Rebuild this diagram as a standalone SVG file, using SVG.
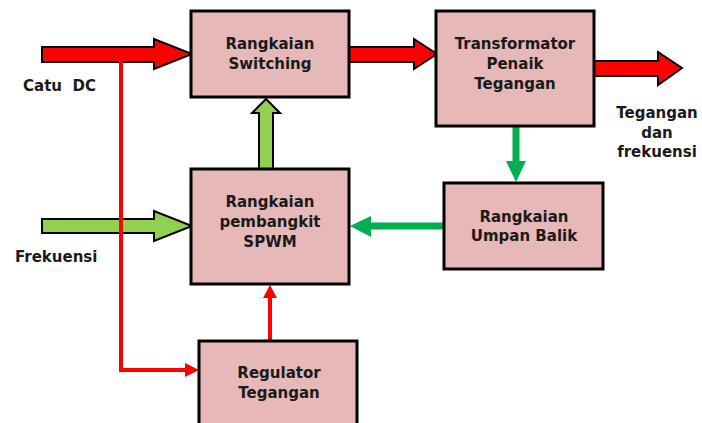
<svg xmlns="http://www.w3.org/2000/svg" width="702" height="423" viewBox="0 0 702 423">
<style>
.box{fill:#e6b8b7;stroke:#000;stroke-width:3}
.t{font-family:"DejaVu Sans","Liberation Sans",sans-serif;font-weight:bold;font-size:15px;fill:#1a1a1a;text-anchor:middle}
.l{font-family:"DejaVu Sans","Liberation Sans",sans-serif;font-weight:bold;font-size:15px;fill:#1a1a1a}
.big-red{fill:#ff0000;stroke:#000;stroke-width:2;stroke-linejoin:miter}
.big-green{fill:#92d050;stroke:#000;stroke-width:2;stroke-linejoin:miter}
.thin-red{fill:none;stroke:#ff0000;stroke-width:4}
.thin-green{fill:none;stroke:#00b050;stroke-width:7}
.hr{fill:#ff0000}
.hg{fill:#00b050}
</style>
<g id="connectors">
<polygon class="big-red" points="42,47 154,47 154,39 192,54 154,69 154,62 42,62"/>
<polygon class="big-red" points="348,47 414,47 414,39 437,54 414,69 414,62 348,62"/>
<polygon class="big-red" points="594,61 658,61 658,52 682,68 658,85 658,76 594,76"/>
<polygon class="big-green" points="259,169 259,113 252,113 266,99 280,113 273,113 273,169"/>
<polygon class="big-green" points="42,219 154,219 154,211 192,226 154,241 154,233 42,233"/>
<path class="thin-red" d="M121,61 V370 H187"/>
<polygon class="hr" points="185,363 199,370 185,377"/>
<line class="thin-red" x1="270" y1="340" x2="270" y2="296"/>
<polygon class="hr" points="263,298 270,285 277,298"/>
<line class="thin-green" x1="516" y1="127" x2="516" y2="163"/>
<polygon class="hg" points="506,161 526,161 516,182"/>
<line class="thin-green" x1="444" y1="226" x2="369" y2="226"/>
<polygon class="hg" points="371,216 350,226 371,237"/>
</g>
<g id="switching">
<rect class="box" x="191" y="11" width="158" height="86"/>
<text class="t" x="270" y="49">Rangkaian</text>
<text class="t" x="270" y="69">Switching</text>
</g>
<g id="transformator">
<rect class="box" x="436" y="11" width="158" height="115"/>
<text class="t" x="515" y="49">Transformator</text>
<text class="t" x="515" y="69">Penaik</text>
<text class="t" x="515" y="89">Tegangan</text>
</g>
<g id="spwm">
<rect class="box" x="191" y="169" width="158" height="115"/>
<text class="t" x="270" y="207">Rangkaian</text>
<text class="t" x="270" y="227">pembangkit</text>
<text class="t" x="270" y="247">SPWM</text>
</g>
<g id="umpan-balik">
<rect class="box" x="444" y="183" width="159" height="86"/>
<text class="t" x="524" y="222">Rangkaian</text>
<text class="t" x="524" y="241">Umpan Balik</text>
</g>
<g id="regulator">
<rect class="box" x="199" y="341" width="158" height="90"/>
<text class="t" x="279" y="378">Regulator</text>
<text class="t" x="279" y="398">Tegangan</text>
</g>
<g id="labels">
<text class="l" x="23" y="91" xml:space="preserve" style="white-space:pre">Catu  DC</text>
<text class="l" x="15" y="262">Frekuensi</text>
<text class="t" x="657" y="118">Tegangan</text>
<text class="t" x="657" y="138">dan</text>
<text class="t" x="657" y="157">frekuensi</text>
</g>
</svg>
